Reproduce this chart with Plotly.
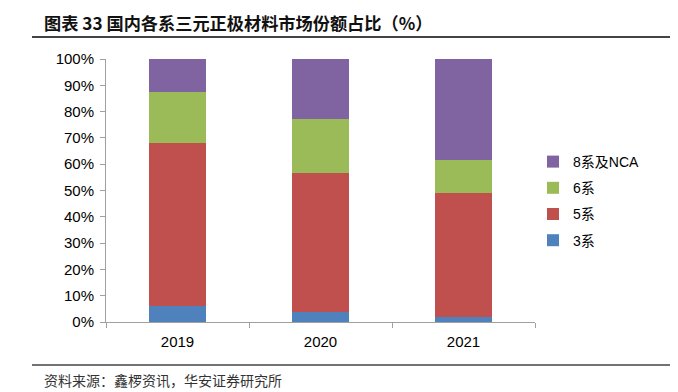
import plotly.graph_objects as go

years = ["2019", "2020", "2021"]
s3 = [6.0, 3.7, 1.8]
s5 = [62.2, 53.1, 47.4]
s6 = [19.1, 20.3, 12.4]
s8 = [12.7, 22.9, 38.4]
names = ["3系", "5系", "6系", "8系及NCA"]
colors = ["#4F81BD", "#C0504D", "#9BBB59", "#8064A2"]

fig = go.Figure()
for i, (name, vals, col) in enumerate(zip(names, [s3, s5, s6, s8], colors)):
    fig.add_trace(go.Bar(x=years, y=vals, name=name, marker_color=col,
                         marker_line_width=0, legendgroup=name,
                         legendrank=1000 - i))

FONT = "Liberation Sans, Arial, Noto Sans CJK SC, sans-serif"
CJK = "Noto Sans CJK SC, sans-serif"
# page body has an 8px margin, so the figure is drawn 8px smaller
PW = 429.0
PH = 263.0
fig.update_layout(
    width=670, height=384,
    barmode="stack", bargap=0.6,
    margin=dict(l=98, r=143, t=51, b=70),
    plot_bgcolor="white", paper_bgcolor="white",
    font=dict(family=FONT, size=15, color="#000"),
    showlegend=True,
    legend=dict(x=(533 - 106) / PW, y=(322 - 146) / PH, xanchor="left", yanchor="top",
                traceorder="grouped", tracegroupgap=5,
                font=dict(size=14, family=FONT), itemwidth=30),
    xaxis=dict(showline=True, linecolor="#A0A0A0", linewidth=1,
               ticks="outside", ticklen=5, tickcolor="#A0A0A0",
               tickson="boundaries", tickfont=dict(size=15),
               ticklabelstandoff=6),
    yaxis=dict(range=[0, 100], dtick=10, ticksuffix="%",
               showline=True, linecolor="#A0A0A0", linewidth=1,
               ticks="outside", ticklen=5, tickcolor="#A0A0A0",
               showgrid=False, zeroline=False, tickfont=dict(size=15),
               ticklabelstandoff=3),
    annotations=[
        dict(text="<b>图表 33 国内各系三元正极材料市场份额占比（%）</b>",
             xref="paper", yref="paper", x=(42 - 106) / PW, y=1.0,
             yshift=37, xanchor="left", yanchor="middle", showarrow=False,
             font=dict(size=17.2, family=CJK, color="#111")),
        dict(text="资料来源：鑫椤资讯，华安证券研究所",
             xref="paper", yref="paper", x=(42 - 106) / PW, y=0.0,
             yshift=-58, xanchor="left", yanchor="middle", showarrow=False,
             font=dict(size=14, color="#333", family=CJK)),
    ],
    shapes=[
        dict(type="line", xref="paper", yref="paper", x0=(32 - 106) / PW, x1=(674 - 106) / PW,
             y0=1 + 22 / PH, y1=1 + 22 / PH, line=dict(color="#444", width=2)),
        dict(type="line", xref="paper", yref="paper", x0=(32 - 106) / PW, x1=(674 - 106) / PW,
             y0=-43 / PH, y1=-43 / PH, line=dict(color="#444", width=1.5)),
    ],
)

fig.write_html("out.html")
